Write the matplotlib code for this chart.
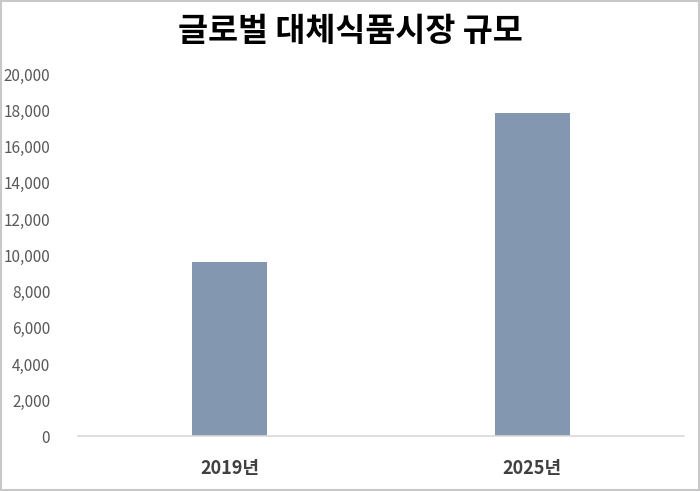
import matplotlib.pyplot as plt
from matplotlib.patches import Rectangle
from matplotlib.ticker import FuncFormatter

plt.rcParams['font.family'] = ['Noto Sans CJK KR', 'DejaVu Sans']

years = ["2019년", "2025년"]
market_size = [9620, 17850]
title = "글로벌 대체식품시장 규모"

fig = plt.figure(figsize=(7, 4.91), dpi=100)
ax = fig.add_axes([0.1114, 0.111, 0.8656, 0.738])

ax.bar(range(len(years)), market_size, width=0.25, color="#8497B0")
ax.set_xlim(-0.5, len(years) - 0.5)
ax.set_ylim(0, 20000)
ax.set_yticks(range(0, 20001, 2000))
ax.yaxis.set_major_formatter(FuncFormatter(lambda v, p: f"{int(v):,}"))
ax.set_xticks(range(len(years)))
ax.set_xticklabels(years, fontsize=13, fontweight="bold", color="#404040")

for s in ["top", "right", "left"]:
    ax.spines[s].set_visible(False)
ax.spines["bottom"].set_color("#D9D9D9")
ax.spines["bottom"].set_linewidth(1.2)
ax.tick_params(axis="y", length=0, labelsize=11, labelcolor="#595959", pad=20)
ax.tick_params(axis="x", length=0, pad=16)

fig.text(0.5, 0.936, title, ha="center", va="center", fontsize=23.5,
         fontweight="bold", color="black")

fig.patches.append(Rectangle((0.002, 0.002), 0.996, 0.996, transform=fig.transFigure,
                             fill=False, edgecolor="#C8C8C8", linewidth=1.5))

fig.savefig("out.png", dpi=100)
